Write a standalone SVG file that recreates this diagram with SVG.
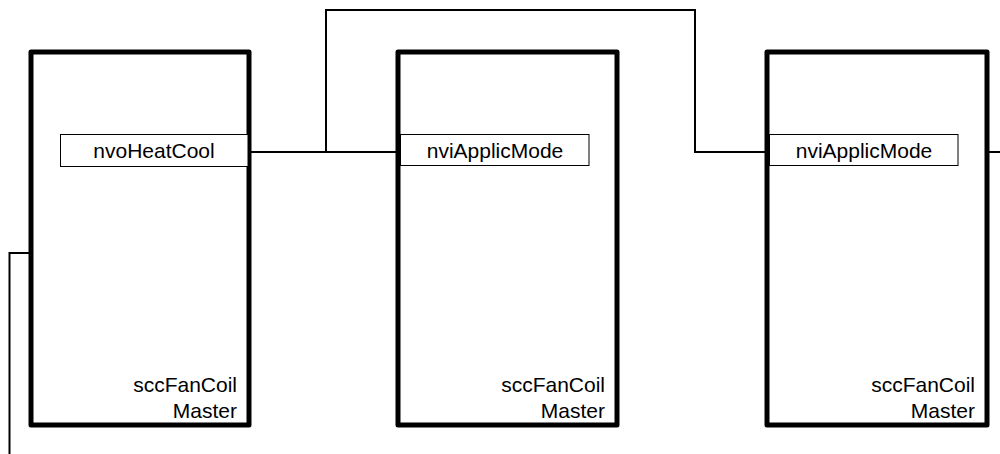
<svg xmlns="http://www.w3.org/2000/svg" width="1000" height="454" viewBox="0 0 1000 454">
<style>
.blk{fill:#fff;stroke:#000;stroke-width:5;stroke-linejoin:round}
.port{fill:#fff;stroke:#000;stroke-width:1}
.wire{fill:none;stroke:#000;stroke-width:2}
text{font-family:"Liberation Sans",Arial,sans-serif;font-size:21px;fill:#000}
.c{text-anchor:middle}
.r{text-anchor:end}
</style>
<rect width="1000" height="454" fill="#fff"/>
<g id="connectors">
<polyline class="wire" points="248,152 398,152"/>
<polyline class="wire" points="326,152 326,10 695,10 695,152 767,152"/>
<polyline class="wire" points="989,152 1000,152"/>
<polyline class="wire" points="31,253 9.5,253 9.5,454"/>
</g>
<g id="node1">
<rect class="blk" x="31" y="52" width="218" height="373"/>
<rect class="port" x="60.5" y="134.5" width="187.5" height="32"/>
<text class="c" x="154" y="158">nvoHeatCool</text>
<text class="r" x="237" y="392">sccFanCoil</text>
<text class="r" x="237" y="418">Master</text>
</g>
<g id="node2">
<rect class="blk" x="398" y="52" width="219" height="373"/>
<rect class="port" x="400.5" y="134.5" width="188.5" height="31"/>
<text class="c" x="495" y="158">nviApplicMode</text>
<text class="r" x="605" y="392">sccFanCoil</text>
<text class="r" x="605" y="418">Master</text>
</g>
<g id="node3">
<rect class="blk" x="767" y="52" width="220" height="373"/>
<rect class="port" x="769.5" y="134.5" width="188.5" height="31"/>
<text class="c" x="864" y="158">nviApplicMode</text>
<text class="r" x="975" y="392">sccFanCoil</text>
<text class="r" x="975" y="418">Master</text>
</g>
</svg>
